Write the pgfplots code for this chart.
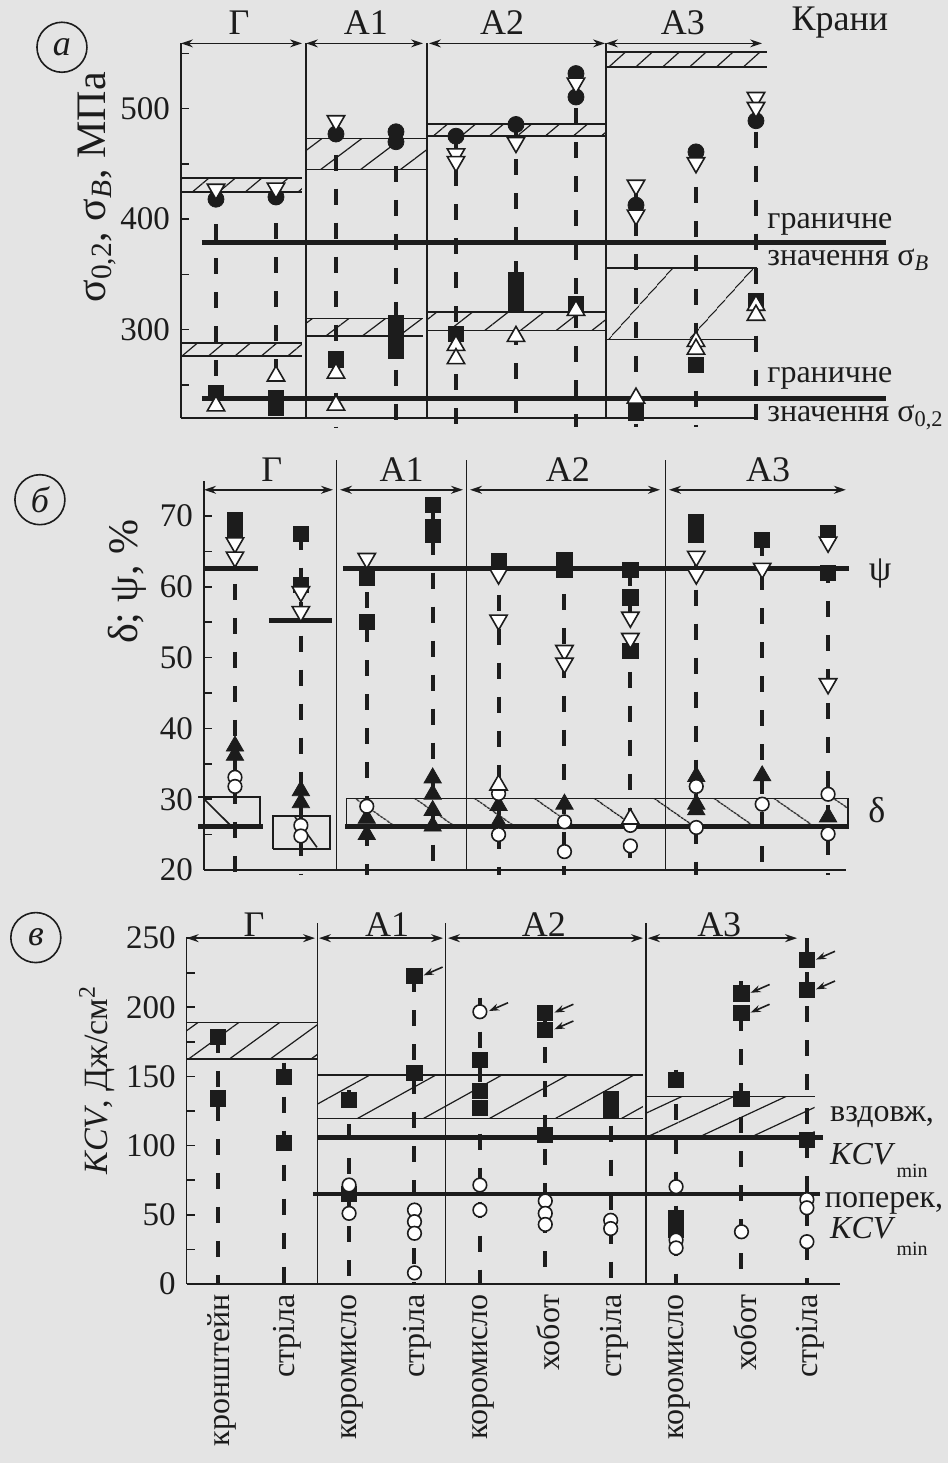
\documentclass[border=0pt]{standalone}
\usepackage{fontspec}
\setmainfont{Liberation Serif}
\usepackage{pgfplots}
\pgfplotsset{compat=1.18}
\usetikzlibrary{patterns.meta,arrows.meta}
\definecolor{ink}{RGB}{28,28,28}
\definecolor{paper}{RGB}{228,228,228}
\pgfplotsset{
  panel/.style={anchor=south west, clip=false, enlargelimits=false,
    axis x line=none, axis y line=left,
    axis line style={-, line width=0.8pt, draw=ink},
    tick align=inside, major tick length=4pt, minor tick length=4pt,
    tick style={line width=0.8pt, draw=ink},
    xtick=\empty,
    yticklabel style={font=\fontsize{16.5}{18}\selectfont, text=ink},
    /pgf/number format/assume math mode=true,
    /pgf/number format/1000 sep={}},
  thinl/.style={ink, line width=0.8pt},
  thickl/.style={ink, line width=2.4pt},
  dashl/.style={ink, line width=2pt, dash pattern=on 8pt off 9pt},
  arr/.style={ink, line width=0.8pt, {Stealth[length=6pt,width=4pt]}-{Stealth[length=6pt,width=4pt]}},
  parr/.style={ink, line width=0.8pt, -{Stealth[length=5pt,width=3.5pt]}},
  fsq/.style={only marks, mark=square*, mark size=3.8pt, mark options={solid, fill=ink, draw=ink}},
  otri/.style={only marks, mark=triangle*, mark size=5pt, mark options={solid, fill=white, draw=ink, line width=0.8pt}},
  ftri/.style={only marks, mark=triangle*, mark size=5pt, mark options={solid, fill=ink, draw=ink}},
  itri/.style={only marks, mark=triangle*, mark size=5pt, mark options={solid, rotate=180, fill=white, draw=ink, line width=0.8pt}},
  fcirc/.style={only marks, mark=*, mark size=4pt, mark options={solid, fill=ink, draw=ink}},
  ocirc/.style={only marks, mark=*, mark size=3.4pt, mark options={solid, fill=white, draw=ink, line width=0.8pt}},
}
\tikzset{circlab/.style={circle, draw=ink, line width=0.8pt, minimum size=25pt, inner sep=0pt, font=\fontsize{18}{20}\selectfont\itshape},
  catlab/.style={rotate=90, anchor=east, inner sep=0.5pt, font=\fontsize{16}{18}\selectfont},
  toplab/.style={font=\fontsize{18}{20}\selectfont}}
\begin{document}
\fontsize{16}{19}\selectfont
\begin{tikzpicture}
\useasboundingbox (0,0) rectangle (474pt,731.5pt);
\fill[paper] (0,0) rectangle (474pt,731.5pt);

% ================= panel a =================
\begin{axis}[panel, at={(90.5pt,522.5pt)}, x=30pt, y=0.5525pt,
  xmin=-0.583, xmax=11.2, ymin=220, ymax=559,
  ytick={300,400,500}, minor ytick={250,350,450,550}]
% hatched boxes
\addplot[draw=none, pattern={Lines[angle=40,distance=8.5pt,line width=0.6pt]}, pattern color=ink] coordinates {(-0.583,424.5) (1.433,424.5) (1.433,437) (-0.583,437) (-0.583,424.5)};
\addplot[draw=none, pattern={Lines[angle=40,distance=8.5pt,line width=0.6pt]}, pattern color=ink] coordinates {(-0.583,276) (1.433,276) (1.433,288) (-0.583,288) (-0.583,276)};
\addplot[draw=none, pattern={Lines[angle=37,distance=12pt,line width=0.6pt]}, pattern color=ink] coordinates {(1.5,445) (3.5,445) (3.5,473) (1.5,473) (1.5,445)};
\addplot[draw=none, pattern={Lines[angle=37,distance=11pt,line width=0.6pt]}, pattern color=ink] coordinates {(1.5,294) (3.45,294) (3.45,310) (1.5,310) (1.5,294)};
\addplot[draw=none, pattern={Lines[angle=40,distance=9pt,line width=0.6pt]}, pattern color=ink] coordinates {(3.517,475) (6.5,475) (6.5,486) (3.517,486) (3.517,475)};
\addplot[draw=none, pattern={Lines[angle=38,distance=11pt,line width=0.6pt]}, pattern color=ink] coordinates {(3.517,299) (6.5,299) (6.5,316) (3.517,316) (3.517,299)};
\addplot[draw=none, pattern={Lines[angle=42,distance=9pt,line width=0.6pt]}, pattern color=ink] coordinates {(6.5,537.6) (9.18,537.6) (9.18,551) (6.5,551) (6.5,537.6)};
\addplot[draw=none, pattern={Lines[angle=48,distance=30pt,line width=0.6pt]}, pattern color=ink] coordinates {(6.5,291) (9.0,291) (9.0,355.5) (6.5,355.5) (6.5,291)};
% box edges
\addplot[thinl] coordinates {(-0.583,424.5) (1.433,424.5)};
\addplot[thinl] coordinates {(-0.583,437) (1.433,437)};
\addplot[thinl] coordinates {(-0.583,276) (1.433,276)};
\addplot[thinl] coordinates {(-0.583,288) (1.433,288)};
\addplot[thinl] coordinates {(1.5,445) (3.5,445)};
\addplot[thinl] coordinates {(1.5,473) (3.5,473)};
\addplot[thinl] coordinates {(1.5,294) (3.45,294)};
\addplot[thinl] coordinates {(1.5,310) (3.45,310)};
\addplot[thinl] coordinates {(3.517,475) (6.5,475)};
\addplot[thinl] coordinates {(3.517,486) (6.5,486)};
\addplot[thinl] coordinates {(3.517,299) (6.5,299)};
\addplot[thinl] coordinates {(3.517,316) (6.5,316)};
\addplot[thinl] coordinates {(6.5,537.6) (9.18,537.6)};
\addplot[thinl] coordinates {(6.5,551) (9.18,551)};
\addplot[thinl] coordinates {(6.5,291) (9.0,291)};
\addplot[thinl] coordinates {(6.5,355.5) (9.02,355.5)};
% separators, frame, arrows
\addplot[thinl] coordinates {(1.5,220) (1.5,559)};
\addplot[thinl] coordinates {(3.517,220) (3.517,559)};
\addplot[thinl] coordinates {(6.5,220) (6.5,559)};
\addplot[thinl] coordinates {(-0.583,220) (9.0,220)};
\addplot[arr] coordinates {(-0.583,559) (1.433,559)};
\addplot[arr] coordinates {(1.5,559) (3.45,559)};
\addplot[arr] coordinates {(3.55,559) (6.483,559)};
\addplot[arr] coordinates {(6.5,559) (9.1,559)};
% limit lines
\addplot[thickl] coordinates {(-0.233,379) (11.17,379)};
\addplot[thickl] coordinates {(-0.233,238) (11.17,238)};
% dashed category lines
\addplot[dashl] coordinates {(0,426) (0,212)};
\addplot[dashl] coordinates {(1,427) (1,212)};
\addplot[dashl] coordinates {(2,489) (2,212)};
\addplot[dashl] coordinates {(3,479) (3,212)};
\addplot[dashl] coordinates {(4,475) (4,212)};
\addplot[dashl] coordinates {(5,485) (5,212)};
\addplot[dashl] coordinates {(6,531) (6,212)};
\addplot[dashl] coordinates {(7,430) (7,212)};
\addplot[dashl] coordinates {(8,460) (8,212)};
\addplot[dashl] coordinates {(9,510) (9,212)};
% markers
\addplot[fsq] coordinates {(0,243) (1,238) (1,229) (2,273) (3,306) (3,294) (3,281) (4,296) (5,345) (5,331) (5,322) (6,323) (7,225) (8,268) (9,326)};
\addplot[otri] coordinates {(0,231) (1,258) (2,260.6) (2,231.6) (4,285.7) (4,273.7) (5,293.8) (6,317.4) (7,238) (8,289.3) (8,282.3) (9,322) (9,313)};
\addplot[fcirc] coordinates {(0,418) (1,420) (2,477) (3,479) (3,470) (4,475) (5,485.6) (6,531.7) (6,510.5) (7,412.6) (8,460.8) (9,489)};
\addplot[itri] coordinates {(0,427) (1,428) (2,489) (4,459) (4,452) (5,469.3) (6,523) (7,430.6) (7,403.6) (8,451) (9,510) (9,501)};
% texts
\node[toplab, text=ink] at (axis cs:0.383,578) {Г};
\node[toplab, text=ink] at (axis cs:2.5,578) {A1};
\node[toplab, text=ink] at (axis cs:4.77,578) {A2};
\node[toplab, text=ink] at (axis cs:7.78,578) {A3};
\node[toplab, text=ink] at (axis cs:10.4,578) {Крани};
\node[text=ink, anchor=west, inner sep=1pt] at (axis cs:9.15,395) {граничне};
\node[text=ink, anchor=west, inner sep=1pt] at (axis cs:9.15,362.8) {значення σ\textsubscript{\textit{B}}};
\node[text=ink, anchor=west, inner sep=1pt] at (axis cs:9.15,256) {граничне};
\node[text=ink, anchor=west, inner sep=1pt] at (axis cs:9.15,220.6) {значення σ\textsubscript{0,2}};
\node[text=ink, rotate=90, font=\fontsize{21}{24}\selectfont] at (axis cs:-1.983,428.8) {σ\textsubscript{0,2}, σ\textsubscript{\textit{B}}, МПа};
\node[circlab, text=ink] at (axis cs:-2.567,555.5) {а};
\end{axis}

% ================= panel b =================
\begin{axis}[panel, at={(102pt,296.5pt)}, x=32.95pt, y=3.54pt,
  xmin=-0.47, xmax=9.35, ymin=20, ymax=75,
  ytick={20,30,...,70}, minor ytick={25,35,...,65}]
\addplot[draw=none, pattern={Lines[angle=-35,distance=17pt,line width=0.6pt]}, pattern color=ink] coordinates {(1.695,26.1) (9.30,26.1) (9.30,30.1) (1.695,30.1) (1.695,26.1)};
\addplot[thinl] coordinates {(1.695,26.1) (9.30,26.1) (9.30,30.1) (1.695,30.1) (1.695,26.1)};
\addplot[thinl] coordinates {(-0.56,30.3) (0.38,30.3) (0.38,26.1)};
\addplot[thinl] coordinates {(-0.455,29.9) (-0.046,26.1)};
\addplot[thinl] coordinates {(0.577,23.0) (1.44,23.0) (1.44,27.6) (0.577,27.6) (0.577,23.0)};
\addplot[thinl] coordinates {(0.91,27.5) (1.244,23.2)};
\addplot[thinl] coordinates {(1.543,20) (1.543,77.9)};
\addplot[thinl] coordinates {(3.516,20) (3.516,77.9)};
\addplot[thinl] coordinates {(6.536,20) (6.536,77.9)};
\addplot[thinl] coordinates {(-0.47,20) (9.27,20)};
\addplot[arr] coordinates {(-0.47,73.7) (1.487,73.7)};
\addplot[arr] coordinates {(1.593,73.7) (3.46,73.7)};
\addplot[arr] coordinates {(3.566,73.7) (6.449,73.7)};
\addplot[arr] coordinates {(6.586,73.7) (9.27,73.7)};
\addplot[thickl] coordinates {(-0.47,62.6) (0.35,62.6)};
\addplot[thickl] coordinates {(0.516,55.2) (1.47,55.2)};
\addplot[thickl] coordinates {(1.64,62.6) (9.32,62.6)};
\addplot[thickl] coordinates {(-0.56,26.1) (0.425,26.1)};
\addplot[thickl] coordinates {(1.67,26.1) (9.32,26.1)};
\addplot[dashl] coordinates {(0,70) (0,19.3)};
\addplot[dashl] coordinates {(1,67.5) (1,19.3)};
\addplot[dashl] coordinates {(2,64) (2,19.3)};
\addplot[dashl] coordinates {(3,71.6) (3,19.3)};
\addplot[dashl] coordinates {(4,63.7) (4,19.3)};
\addplot[dashl] coordinates {(5,63.8) (5,19.3)};
\addplot[dashl] coordinates {(6,62.4) (6,19.3)};
\addplot[dashl] coordinates {(7,69.2) (7,19.3)};
\addplot[dashl] coordinates {(8,66.6) (8,19.3)};
\addplot[dashl] coordinates {(9,67.6) (9,19.3)};
\addplot[fsq] coordinates {(0,69.5) (0,68.2) (1,67.5) (1,60.3) (2,61.3) (2,55) (3,71.6) (3,68.5) (3,67.3) (4,63.7) (5,63.8) (5,62.4) (6,62.4) (6,58.5) (6,51) (7,69.2) (7,67.3) (8,66.6) (9,67.6) (9,62)};
\addplot[itri] coordinates {(0,66.2) (0,64.2) (1,59.3) (1,56.5) (2,64) (4,61.8) (4,55.3) (5,51) (5,49.2) (6,55.7) (6,52.7) (7,64.3) (7,61.8) (8,62.6) (9,66.3) (9,46.3)};
\addplot[ftri] coordinates {(0,37.5) (0,36.2) (1,31.2) (1,29.5) (2,27.3) (2,25) (3,33) (3,30.7) (3,28.4) (3,26.2) (4,29.1) (4,26.7) (5,29.3) (7,33.2) (7,29.3) (7,28.5) (8,33.3) (9,27.5)};
\addplot[ocirc] coordinates {(0,33.1) (0,31.8) (1,26.3) (1,24.8) (2,29) (4,30.8) (4,25) (5,26.8) (5,22.6) (6,26.3) (6,23.4) (7,31.8) (7,26) (8,29.3) (9,30.7) (9,25.1)};
\addplot[otri] coordinates {(4,32) (6,27.2)};
\node[toplab, text=ink] at (axis cs:0.56,76.5) {Г};
\node[toplab, text=ink] at (axis cs:2.53,76.5) {A1};
\node[toplab, text=ink] at (axis cs:5.05,76.5) {A2};
\node[toplab, text=ink] at (axis cs:8.09,76.5) {A3};
\node[text=ink, font=\fontsize{18}{20}\selectfont] at (axis cs:9.79,61.9) {ψ};
\node[text=ink, font=\fontsize{18}{20}\selectfont] at (axis cs:9.74,28.5) {δ};
\node[text=ink, rotate=90, font=\fontsize{21}{24}\selectfont] at (axis cs:-1.64,60.7) {δ; ψ, \%};
\node[circlab, text=ink] at (axis cs:-2.96,72.3) {б};
\end{axis}

% ================= panel c =================
\begin{axis}[panel, at={(93.35pt,89.55pt)}, x=32.7pt, y=0.6915pt,
  xmin=-0.483, xmax=9.5, ymin=0, ymax=251,
  ytick={0,50,...,250}, minor ytick={25,75,...,225}]
\addplot[draw=none, pattern={Lines[angle=36,distance=12pt,line width=0.6pt]}, pattern color=ink] coordinates {(-0.483,162.6) (1.52,162.6) (1.52,188.9) (-0.483,188.9) (-0.483,162.6)};
\addplot[draw=none, pattern={Lines[angle=29,distance=16pt,line width=0.6pt]}, pattern color=ink] coordinates {(1.52,119.7) (6.494,119.7) (6.494,151) (1.52,151) (1.52,119.7)};
\addplot[draw=none, pattern={Lines[angle=25,distance=11pt,line width=0.6pt]}, pattern color=ink] coordinates {(6.54,106) (9.12,106) (9.12,135.4) (6.54,135.4) (6.54,106)};
\addplot[thinl] coordinates {(-0.483,162.6) (1.52,162.6)};
\addplot[thinl] coordinates {(-0.483,188.9) (1.52,188.9)};
\addplot[thinl] coordinates {(1.52,119.7) (6.494,119.7)};
\addplot[thinl] coordinates {(1.52,151) (6.494,151)};
\addplot[thinl] coordinates {(6.54,135.4) (9.12,135.4)};
\addplot[thinl] coordinates {(1.52,0) (1.52,261)};
\addplot[thinl] coordinates {(3.477,0) (3.477,261)};
\addplot[thinl] coordinates {(6.54,0) (6.54,261)};
\addplot[thinl] coordinates {(-0.483,0) (9.5,0)};
\addplot[arr] coordinates {(-0.483,250) (1.479,250)};
\addplot[arr] coordinates {(1.54,250) (3.437,250)};
\addplot[arr] coordinates {(3.512,250) (6.494,250)};
\addplot[arr] coordinates {(6.569,250) (8.85,250)};
\addplot[thickl] coordinates {(1.524,106) (9.246,106)};
\addplot[thickl] coordinates {(1.448,65) (9.2,65)};
\addplot[dashl] coordinates {(0,178.7) (0,0)};
\addplot[dashl] coordinates {(1,160) (1,0)};
\addplot[dashl] coordinates {(2,140) (2,0)};
\addplot[dashl] coordinates {(3,222.6) (3,0)};
\addplot[dashl] coordinates {(4,207) (4,0)};
\addplot[dashl] coordinates {(5,195.7) (5,0)};
\addplot[dashl] coordinates {(6,139) (6,0)};
\addplot[dashl] coordinates {(7,155) (7,0)};
\addplot[dashl] coordinates {(8,219) (8,0)};
\addplot[dashl] coordinates {(9,250) (9,0)};
\addplot[fsq] coordinates {(0,178.7) (0,134.2) (1,149.8) (1,102) (2,133) (2,65) (3,222.6) (3,152.3) (4,162) (4,139.7) (4,127) (5,195.7) (5,183.6) (5,107.7) (6,134) (6,126) (7,147.4) (7,48) (7,39) (8,210) (8,195.7) (8,133.5) (9,234) (9,212.5) (9,104)};
\addplot[ocirc] coordinates {(2,71.5) (2,51) (3,53.4) (3,45) (3,36.6) (3,8) (4,196.8) (4,71.5) (4,53.4) (5,60) (5,51) (5,43) (6,46) (6,40) (7,70.3) (7,31.7) (7,26) (8,37.7) (9,61) (9,55) (9,30.5)};
\addplot[parr] coordinates {(3.43,229.1) (3.14,223.1)};
\addplot[parr] coordinates {(4.43,203.3) (4.14,197.3)};
\addplot[parr] coordinates {(5.43,202.2) (5.14,196.2)};
\addplot[parr] coordinates {(5.43,190.1) (5.14,184.1)};
\addplot[parr] coordinates {(8.43,216.5) (8.14,210.5)};
\addplot[parr] coordinates {(8.43,202.2) (8.14,196.2)};
\addplot[parr] coordinates {(9.43,240.5) (9.14,234.5)};
\addplot[parr] coordinates {(9.43,219) (9.14,213)};
\node[toplab, text=ink] at (axis cs:0.546,260) {Г};
\node[toplab, text=ink] at (axis cs:2.58,260) {A1};
\node[toplab, text=ink] at (axis cs:4.98,260) {A2};
\node[toplab, text=ink] at (axis cs:7.66,260) {A3};
\node[text=ink, anchor=west, inner sep=1pt] at (axis cs:9.32,121) {вздовж,};
\node[text=ink, anchor=west, inner sep=1pt, font=\itshape] at (axis cs:9.32,94) {KCV};
\node[text=ink, anchor=west, inner sep=0.5pt, font=\fontsize{10}{11}\selectfont] at (axis cs:10.35,82) {min};
\node[text=ink, anchor=west, inner sep=1pt] at (axis cs:9.24,58) {поперек,};
\node[text=ink, anchor=west, inner sep=1pt, font=\itshape] at (axis cs:9.32,40) {KCV};
\node[text=ink, anchor=west, inner sep=0.5pt, font=\fontsize{10}{11}\selectfont] at (axis cs:10.35,25) {min};
\node[text=ink, rotate=90, font=\fontsize{17}{20}\selectfont] at (axis cs:-1.855,147.4) {\textit{KCV}, Дж/см\textsuperscript{2}};
\node[circlab, text=ink] at (axis cs:-2.79,250.4) {в};
\node[catlab, text=ink] at (axis cs:0.05,-6.5) {кронштейн};
\node[catlab, text=ink] at (axis cs:1.05,-6.5) {стріла};
\node[catlab, text=ink] at (axis cs:2.05,-6.5) {коромисло};
\node[catlab, text=ink] at (axis cs:3.05,-6.5) {стріла};
\node[catlab, text=ink] at (axis cs:4.05,-6.5) {коромисло};
\node[catlab, text=ink] at (axis cs:5.05,-6.5) {хобот};
\node[catlab, text=ink] at (axis cs:6.05,-6.5) {стріла};
\node[catlab, text=ink] at (axis cs:7.05,-6.5) {коромисло};
\node[catlab, text=ink] at (axis cs:8.05,-6.5) {хобот};
\node[catlab, text=ink] at (axis cs:9.05,-6.5) {стріла};
\end{axis}
\end{tikzpicture}
\end{document}
